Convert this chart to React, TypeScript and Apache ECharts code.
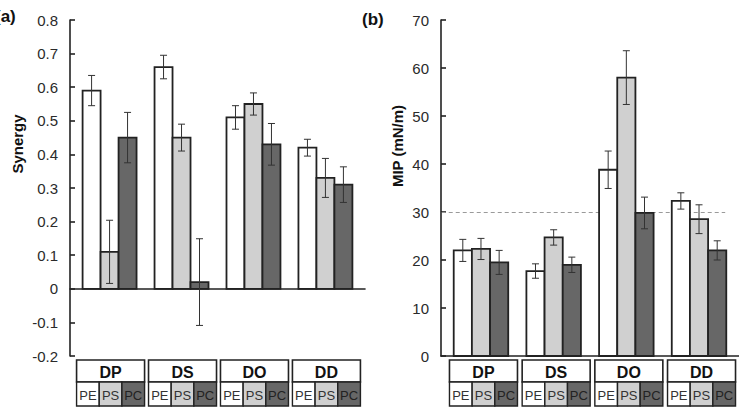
import React, { useEffect, useRef } from "react";
import * as echarts from "echarts";

const categories = ["DP", "DS", "DO", "DD"];
const subLabels = ["PE", "PS", "PC"];
const subFills = ["#ffffff", "#d0d0d0", "#676767"];

const synergyPE = [0.59, 0.66, 0.51, 0.42];
const synergyPS = [0.11, 0.45, 0.55, 0.33];
const synergyPC = [0.45, 0.02, 0.43, 0.31];
const synergyErrPE = [0.045, 0.035, 0.035, 0.025];
const synergyErrPS = [0.094, 0.04, 0.033, 0.058];
const synergyErrPC = [0.075, 0.129, 0.062, 0.053];

const mipPE = [22, 17.7, 38.8, 32.3];
const mipPS = [22.3, 24.7, 58, 28.5];
const mipPC = [19.5, 19, 29.8, 22];
const mipErrPE = [2.3, 1.5, 3.9, 1.7];
const mipErrPS = [2.2, 1.6, 5.6, 3];
const mipErrPC = [2.5, 1.6, 3.3, 2];

const synergyAxis = { min: -0.2, max: 0.8, interval: 0.1 };
const mipAxis = { min: 0, max: 70, interval: 10 };
const mipReference = 30;

const FONT = "Liberation Sans, Arial, sans-serif";

function barSeries(
  name: string,
  values: number[],
  errs: number[],
  slot: number,
  axisIndex: number
) {
  return {
    type: "custom",
    name,
    xAxisIndex: axisIndex,
    yAxisIndex: axisIndex,
    z: 10,
    clip: false,
    encode: { x: 0, y: 1 },
    data: values.map((v, i) => [i, v, errs[i]]),
    renderItem: (params: any, api: any) => {
      const i = api.value(0);
      const v = api.value(1);
      const e = api.value(2);
      const band = api.size([1, 0])[0];
      const bw = band * 0.25;
      const top = api.coord([i, v]);
      const base = api.coord([i, 0]);
      const left = top[0] + (slot - 1.5) * bw;
      const cx = left + bw / 2;
      const hi = api.coord([i, v + e])[1];
      const lo = api.coord([i, v - e])[1];
      const cap = 3.5;
      const lineStyle = { stroke: "#333", lineWidth: 1 };
      return {
        type: "group",
        children: [
          {
            type: "rect",
            shape: {
              x: left,
              y: Math.min(top[1], base[1]),
              width: bw,
              height: Math.abs(base[1] - top[1]),
            },
            style: { fill: subFills[slot], stroke: "#222", lineWidth: 1.8 },
          },
          { type: "line", shape: { x1: cx, y1: hi, x2: cx, y2: lo }, style: lineStyle },
          { type: "line", shape: { x1: cx - cap, y1: hi, x2: cx + cap, y2: hi }, style: lineStyle },
          { type: "line", shape: { x1: cx - cap, y1: lo, x2: cx + cap, y2: lo }, style: lineStyle },
        ],
      };
    },
  };
}

function tableSeries(axisIndex: number, yMin: number, shift: number) {
  return {
    type: "custom",
    xAxisIndex: axisIndex,
    yAxisIndex: axisIndex,
    z: 12,
    clip: false,
    silent: true,
    encode: { x: 0, y: 1 },
    data: categories.map((c, i) => [i, yMin]),
    renderItem: (params: any, api: any) => {
      const i = api.value(0);
      const p = api.coord([i, yMin]);
      const w = 68;
      const x0 = p[0] + shift - w / 2;
      const y0 = p[1] + 4;
      const hH = 22;
      const sH = 24;
      const cw = w / 3;
      const children: any[] = [];
      children.push({
        type: "rect",
        shape: { x: x0, y: y0, width: w, height: hH },
        style: { fill: "#fff", stroke: "#222", lineWidth: 1.6 },
      });
      children.push({
        type: "text",
        style: {
          text: categories[i],
          x: x0 + w / 2,
          y: y0 + hH / 2 + 1,
          align: "center",
          verticalAlign: "middle",
          fontFamily: FONT,
          fontWeight: "bold",
          fontSize: 16,
          fill: "#111",
        },
      });
      for (let k = 0; k < 3; k++) {
        children.push({
          type: "rect",
          shape: { x: x0 + k * cw, y: y0 + hH, width: cw, height: sH },
          style: { fill: subFills[k], stroke: "#222", lineWidth: 1.4 },
        });
        children.push({
          type: "text",
          style: {
            text: subLabels[k],
            x: x0 + k * cw + cw / 2,
            y: y0 + hH + sH / 2 + 1,
            align: "center",
            verticalAlign: "middle",
            fontFamily: FONT,
            fontSize: 13,
            fill: k === 2 ? "#222" : "#333",
          },
        });
      }
      return { type: "group", children };
    },
  };
}

const axisLineStyle = { color: "#222", width: 1.6 };

function makeYAxis(gridIndex: number, ax: { min: number; max: number; interval: number }) {
  return {
    type: "value",
    gridIndex,
    min: ax.min,
    max: ax.max,
    interval: ax.interval,
    axisLine: { show: true, onZero: false, lineStyle: axisLineStyle },
    axisTick: { show: true, inside: true, length: 5, lineStyle: axisLineStyle },
    axisLabel: {
      color: "#2a2a2a",
      fontSize: 15,
      fontFamily: FONT,
      margin: 12,
      formatter: (v: number) => String(parseFloat(v.toFixed(1))),
    },
    splitLine: { show: false },
  };
}

function makeXAxis(gridIndex: number) {
  return {
    type: "value",
    gridIndex,
    min: -0.55,
    max: 3.55,
    axisLine: { show: true, onZero: true, lineStyle: axisLineStyle },
    axisTick: { show: false },
    axisLabel: { show: false },
    splitLine: { show: false },
  };
}

export default function App() {
  const ref = useRef<HTMLDivElement>(null);
  useEffect(() => {
    document.body.style.margin = "0";
    if (!ref.current) return;
    const chart = echarts.init(ref.current, undefined, { renderer: "svg" });
    const pe1 = barSeries("PE", synergyPE, synergyErrPE, 0, 0);
    const pe2: any = barSeries("PE", mipPE, mipErrPE, 0, 1);
    pe2.markLine = {
      silent: true,
      symbol: "none",
      z: 3,
      label: { show: false },
      lineStyle: { type: [4, 3], color: "#9a9a9a", width: 1 },
      data: [[{ coord: [-0.54, mipReference] }, { coord: [3.36, mipReference] }]],
    };
    chart.setOption({
      animation: false,
      backgroundColor: "#fff",
      grid: [
        { left: 70, top: 20, width: 295, height: 336 },
        { left: 441, top: 20, width: 298, height: 336 },
      ],
      xAxis: [makeXAxis(0), makeXAxis(1)],
      yAxis: [makeYAxis(0, synergyAxis), makeYAxis(1, mipAxis)],
      graphic: [
        {
          type: "text",
          x: -5,
          y: 16,
          style: { text: "(a)", font: `bold 17px ${FONT}`, fill: "#111", verticalAlign: "middle" },
        },
        {
          type: "text",
          x: 362,
          y: 19,
          style: { text: "(b)", font: `bold 17px ${FONT}`, fill: "#111", verticalAlign: "middle" },
        },
        {
          type: "text",
          x: 17,
          y: 144,
          rotation: Math.PI / 2,
          style: {
            text: "Synergy",
            font: `bold 15px ${FONT}`,
            fill: "#111",
            align: "center",
            verticalAlign: "middle",
          },
        },
        {
          type: "text",
          x: 397,
          y: 146,
          rotation: Math.PI / 2,
          style: {
            text: "MIP (mN/m)",
            font: `bold 15px ${FONT}`,
            fill: "#111",
            align: "center",
            verticalAlign: "middle",
          },
        },
      ],
      series: [
        pe1,
        barSeries("PS", synergyPS, synergyErrPS, 1, 0),
        barSeries("PC", synergyPC, synergyErrPC, 2, 0),
        pe2,
        barSeries("PS", mipPS, mipErrPS, 1, 1),
        barSeries("PC", mipPC, mipErrPC, 2, 1),
        tableSeries(0, synergyAxis.min, 1),
        tableSeries(1, mipAxis.min, 2.5),
      ],
    });
    return () => chart.dispose();
  }, []);
  return <div ref={ref} style={{ width: 739, height: 410 }} />;
}
